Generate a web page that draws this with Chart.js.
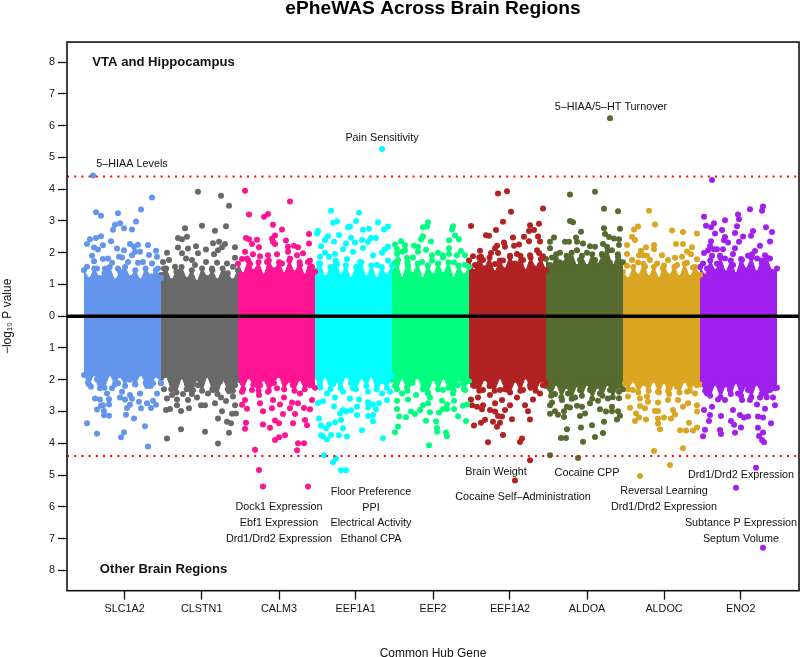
<!DOCTYPE html>
<html>
<head>
<meta charset="utf-8">
<title>ePheWAS Across Brain Regions</title>
<script src="https://cdn.jsdelivr.net/npm/chart.js@4"></script>
<style>
  body { margin: 0; background: #fff; }
  canvas { display: block; }
</style>
</head>
<body>
<canvas id="myChart" width="800" height="657"></canvas>
<script>
const genes = ["SLC1A2", "CLSTN1", "CALM3", "EEF1A1", "EEF2", "EEF1A2", "ALDOA", "ALDOC", "ENO2"];
const geneColors = ["#6495ED", "#696969", "#FF1493", "#00FFFF", "#00FF7F", "#B22222", "#556B2F", "#DAA520", "#A020F0"];
const geneStarts = [0, 77, 154, 231, 308, 385, 462, 539, 616];
const geneTicks = [40.7, 117.7, 195, 271.7, 349, 426, 503, 580, 656.7];
const yTicks = [-8, -7, -6, -5, -4, -3, -2, -1, 0, 1, 2, 3, 4, 5, 6, 7, 8];
const threshold = 4.4;

// upper edge of the solid mass of points, read across each gene, left to right
const edgeUp = [
  [1.45, 1.15, 1.5, 1.2, 1.35, 1.55, 1.1, 1.4, 1.55, 1.2, 1.45, 1.1, 1.5, 1.25, 1.45, 1.2],
  [1.3, 1.5, 1.1, 1.4, 1.55, 1.15, 1.45, 1.05, 1.5, 1.2, 1.45, 1.1, 1.5, 1.35, 1.1, 1.45],
  [1.65, 1.3, 1.75, 1.4, 1.7, 1.25, 1.75, 1.45, 1.7, 1.3, 1.75, 1.35, 1.7, 1.25, 1.75, 1.4],
  [1.45, 1.65, 1.2, 1.55, 1.75, 1.25, 1.6, 1.15, 1.55, 1.7, 1.2, 1.6, 1.15, 1.55, 1.25, 1.6],
  [1.4, 1.65, 1.15, 1.7, 1.3, 1.65, 1.15, 1.6, 1.25, 1.65, 1.3, 1.7, 1.15, 1.6, 1.25, 1.55],
  [1.75, 1.4, 1.85, 1.5, 1.85, 1.35, 1.75, 1.45, 1.9, 1.5, 1.9, 1.4, 1.85, 1.5, 1.8, 1.45],
  [1.8, 1.5, 1.95, 1.6, 1.9, 2.0, 1.55, 1.9, 1.55, 1.95, 1.6, 1.9, 2.05, 1.55, 1.95, 1.7],
  [1.4, 1.15, 1.55, 1.25, 1.65, 1.2, 1.55, 1.15, 1.6, 1.25, 1.55, 1.2, 1.65, 1.2, 1.55, 1.3],
  [1.55, 1.25, 1.75, 1.4, 1.85, 1.35, 1.75, 1.3, 1.8, 1.45, 1.85, 1.35, 1.75, 1.85, 1.4, 1.5]
];
const edgeDown = [
  [-1.85, -2.15, -1.8, -2.1, -2.25, -1.8, -2.15, -1.85, -2.2, -1.85, -2.15, -1.8, -2.1, -2.2, -1.85, -2.1],
  [-2.1, -1.85, -2.3, -2.4, -1.9, -2.3, -2.45, -1.95, -2.35, -1.85, -2.3, -2.45, -1.95, -2.3, -2.35, -2.0],
  [-2.0, -2.3, -1.9, -2.15, -2.35, -1.95, -2.35, -2.1, -1.85, -2.3, -2.0, -2.35, -1.95, -2.3, -2.05, -2.25],
  [-1.9, -2.25, -1.85, -2.3, -2.0, -2.25, -1.85, -2.1, -2.3, -1.9, -2.2, -1.85, -2.3, -2.05, -2.25, -1.9],
  [-2.0, -2.3, -1.9, -2.35, -2.1, -1.9, -2.3, -2.4, -1.95, -2.3, -1.9, -2.25, -2.35, -1.95, -2.3, -2.05],
  [-1.95, -2.2, -2.35, -1.95, -2.2, -2.35, -1.9, -2.3, -2.4, -2.0, -2.35, -1.9, -2.25, -2.35, -2.0, -2.1],
  [-2.2, -2.5, -2.1, -2.55, -2.2, -2.6, -2.15, -2.5, -2.1, -2.6, -2.2, -2.5, -2.1, -2.55, -2.2, -2.3],
  [-2.05, -2.3, -2.0, -2.4, -2.1, -2.35, -2.0, -2.4, -2.05, -2.45, -2.1, -2.4, -2.0, -2.35, -2.1, -2.15],
  [-2.05, -2.35, -2.5, -2.1, -2.55, -2.15, -2.45, -2.05, -2.5, -2.15, -2.55, -2.1, -2.45, -2.55, -2.15, -2.25]
];

// single points clear of the solid mass: [position, -log10 P], negative for other brain regions
const slc1a2 = [[9,4.43],[68,3.74],[57,3.36],[12,3.27],[17,3.16],[34,3.24],[52,2.98],[31,2.88],[36,2.93],[29,2.72],[40,2.77],[48,2.73],[17,2.52],[12,2.46],[6,2.42],[3,2.27],[27,2.36],[10,2.16],[14,2.1],[19,2.23],[8,1.9],[33,2.13],[46,2.27],[54,2.25],[50,2.19],[64,2.24],[72,2.06],[65,1.93],[73,1.87],[40,2.08],[35,1.87],[38,1.85],[48,1.92],[56,2.03],[51,2.03],[44,1.71],[19,1.8],[24,1.82],[10,1.73],[28,1.68],[3,1.56],[13,1.5],[21,1.5],[34,1.5],[54,1.68],[59,1.71],[68,1.66],[74,1.5],
  [3,-3.37],[13,-3.7],[40,-3.65],[37,-3.81],[61,-3.46],[64,-4.1],[50,-3.22],[20,-3.12],[25,-3.13],[42,-3.1],[13,-2.94],[17,-2.82],[19,-2.8],[25,-2.78],[20,-2.98],[43,-2.89],[46,-2.79],[57,-2.9],[67,-2.89],[63,-2.74],[72,-2.79],[55,-2.69],[11,-2.59],[16,-2.62],[25,-2.61],[36,-2.56],[41,-2.62],[48,-2.6],[69,-2.66],[73,-2.43],[56,-2.43],[16,-2.27],[23,-2.43],[28,-2.27],[38,-2.38],[46,-2.48],[7,-2.22],[63,-2.2],[4,-2.09],[19,-2.14],[34,-2.11],[51,-2.14],[69,-2.11],[13,-1.99],[46,-2]];
const clstn1 = [[114,3.92],[137,3.79],[145,3.48],[101,2.77],[118,2.85],[131,2.69],[142,2.83],[94,2.46],[98,2.42],[103,2.5],[94,2.16],[104,2.13],[112,2.2],[122,2.1],[129,2.3],[135,2.34],[141,2.27],[151,2.17],[83,2],[98,1.98],[114,1.98],[130,1.95],[151,1.84],[134,2.08],[138,2.17],[79,1.71],[85,1.77],[102,1.82],[108,1.77],[122,1.71],[133,1.68],[143,1.66],[80,1.5],[91,1.56],[111,1.61],[128,1.5],[149,1.56],
  [83,-3.85],[97,-3.56],[121,-3.64],[134,-4.01],[145,-3.67],[134,-3.22],[143,-3.32],[147,-3.37],[138,-2.99],[148,-3.07],[152,-3.06],[151,-2.8],[82,-2.95],[86,-2.92],[93,-2.8],[97,-2.98],[105,-2.9],[117,-2.8],[121,-2.8],[131,-2.74],[142,-2.67],[83,-2.59],[93,-2.62],[104,-2.64],[137,-2.56],[149,-2.53],[113,-2.56],[88,-2.48],[99,-2.45],[124,-2.43],[145,-2.36],[80,-2.3],[109,-2.33],[129,-2.32],[91,-2.17],[114,-2.17],[151,-2.17],[136,-2.06],[103,-2.14]];
const calm3 = [[161,3.95],[206,3.61],[165,3.2],[184,3.22],[180,3.13],[189,2.88],[198,2.73],[191,2.54],[225,2.59],[162,2.46],[165,2.42],[173,2.41],[168,2.27],[175,2.17],[188,2.44],[191,2.27],[189,2.34],[202,2.38],[204,2.19],[210,2.22],[214,2.17],[225,2.29],[161,2.03],[169,1.95],[184,1.92],[204,2.03],[219,1.98],[158,1.8],[163,1.82],[176,1.89],[193,1.95],[206,1.82],[213,1.92],[224,1.71],[166,1.64],[183,1.71],[198,1.66],[216,1.61],[228,1.56],
  [179,-5.36],[224,-5.36],[175,-4.84],[171,-4.2],[213,-4.22],[214,-4],[220,-4],[201,-3.75],[195,-3.81],[191,-3.9],[179,-3.41],[186,-3.51],[161,-3.54],[162,-3.35],[191,-3.28],[195,-3.37],[221,-3.27],[223,-3.43],[209,-3.37],[163,-2.91],[158,-2.79],[179,-2.99],[188,-2.9],[199,-3.08],[211,-3.08],[226,-2.93],[220,-2.89],[206,-2.9],[176,-2.74],[196,-2.78],[214,-2.74],[161,-2.64],[189,-2.64],[228,-2.64],[175,-2.48],[200,-2.56],[208,-2.72],[158,-2.38],[168,-2.32],[184,-2.38],[216,-2.43],[193,-2.27],[226,-2.17],[176,-2.17],[158,-1.96],[209,-2.17]];
const eef1a1 = [[298,5.26],[247,3.32],[275,3.26],[249,2.94],[253,2.99],[272,3],[294,2.96],[264,2.8],[266,2.82],[279,2.72],[285,2.75],[304,2.82],[300,2.73],[234,2.68],[233,2.6],[244,2.52],[255,2.56],[267,2.47],[241,2.39],[250,2.34],[262,2.29],[271,2.32],[278,2.4],[287,2.46],[292,2.46],[237,2.2],[259,2.11],[279,2.15],[284,2.34],[304,2.19],[301,2.11],[241,2],[251,1.96],[269,2.03],[298,2],[289,1.92],[236,1.87],[245,1.87],[263,1.79],[304,1.75],[276,1.71],[235,1.66],[253,1.64],[293,1.61],
  [240,-4.38],[252,-4.48],[249,-4.6],[257,-4.85],[262,-4.85],[299,-3.84],[237,-3.75],[239,-3.79],[243,-3.88],[247,-3.74],[255,-3.75],[263,-3.79],[278,-3.59],[237,-3.45],[242,-3.53],[245,-3.41],[251,-3.34],[257,-3.27],[259,-3.53],[235,-3.22],[289,-3.31],[284,-3.14],[289,-3.11],[273,-3.11],[256,-3.06],[259,-2.95],[262,-3],[267,-2.96],[292,-2.93],[250,-2.84],[273,-2.85],[284,-2.87],[284,-2.71],[289,-2.77],[295,-2.74],[234,-2.73],[239,-2.68],[303,-2.64],[266,-2.59],[251,-2.56],[275,-2.62],[243,-2.43],[259,-2.38],[284,-2.38],[298,-2.43],[306,-2.38],[236,-2.17],[269,-2.27],[249,-2.14],[293,-2.17]];
const eef2 = [[344,2.96],[339,2.8],[343,2.82],[369,2.83],[368,2.73],[339,2.52],[371,2.54],[317,2.36],[337,2.42],[347,2.35],[365,2.39],[375,2.42],[311,2.26],[321,2.23],[330,2.22],[334,2.19],[365,2.14],[313,2.11],[321,2.08],[342,2.09],[313,1.96],[318,2.03],[334,2.03],[354,2],[377,2.05],[348,1.92],[359,1.92],[365,1.96],[373,1.92],[381,1.92],[311,1.68],[314,1.77],[323,1.84],[329,1.85],[338,1.71],[348,1.75],[359,1.85],[370,1.69],[381,1.61],[324,1.58],[354,1.66],
  [345,-4.06],[363,-3.78],[362,-3.66],[353,-3.64],[353,-3.52],[311,-3.65],[314,-3.47],[342,-3.29],[352,-3.31],[382,-3.3],[315,-3.16],[322,-3.18],[374,-3.15],[327,-3],[331,-3.08],[336,-2.95],[346,-3.02],[355,-3.03],[313,-2.92],[359,-2.92],[363,-2.92],[370,-2.92],[339,-2.8],[344,-2.74],[358,-2.66],[363,-2.78],[379,-2.82],[383,-2.78],[313,-2.66],[324,-2.62],[346,-2.56],[370,-2.66],[332,-2.48],[318,-2.43],[369,-2.43],[381,-2.32],[344,-2.43],[323,-2.24],[359,-2.32],[339,-2.27],[311,-2.2],[374,-2.17]];
const eef1a2 = [[423,3.93],[414,3.86],[427,3.29],[459,3.39],[387,2.84],[419,2.97],[455,2.91],[446,2.86],[450,2.71],[445,2.68],[412,2.71],[402,2.55],[405,2.53],[429,2.48],[440,2.5],[454,2.51],[445,2.36],[456,2.35],[420,2.32],[413,2.22],[435,2.26],[430,2.22],[421,2.19],[411,2.14],[396,2.06],[407,1.99],[414,1.99],[453,2.08],[455,1.99],[389,1.89],[397,1.87],[426,1.87],[433,1.96],[446,1.92],[459,1.89],[399,1.77],[419,1.75],[439,1.77],[391,1.61],[411,1.64],[431,1.66],[456,1.61],
  [446,-4.53],[431,-5.17],[404,-3.97],[419,-3.74],[438,-3.85],[436,-3.96],[390,-3.44],[397,-3.35],[401,-3.26],[409,-3.32],[413,-3.48],[416,-3.35],[428,-3.24],[446,-3.25],[414,-3.14],[418,-3.16],[444,-2.99],[388,-2.8],[393,-2.85],[399,-2.8],[398,-2.93],[406,-2.95],[411,-3],[421,-2.95],[426,-2.8],[441,-2.8],[387,-2.62],[394,-2.56],[411,-2.74],[418,-2.64],[433,-2.56],[449,-2.62],[399,-2.32],[406,-2.48],[424,-2.32],[456,-2.43],[439,-2.32],[416,-2.32],[389,-2.17],[459,-2.17],[446,-2.17]];
const aldoa = [[526,6.23],[511,3.92],[486,3.83],[520,3.38],[534,3.3],[486,3],[489,2.96],[520,2.77],[536,2.75],[497,2.66],[521,2.59],[470,2.48],[492,2.48],[525,2.49],[530,2.45],[535,2.42],[466,2.34],[481,2.34],[485,2.34],[493,2.34],[499,2.29],[519,2.27],[535,2.24],[506,2.2],[511,2.19],[523,2.19],[466,2.14],[493,2.08],[528,2.08],[476,2],[503,2],[518,1.96],[468,1.85],[486,1.87],[534,1.87],[496,1.77],[511,1.77],[476,1.69],[526,1.68],[466,1.61],
  [466,-4.38],[494,-4.46],[499,-3.95],[477,-3.83],[482,-3.83],[483,-3.56],[497,-3.5],[508,-3.43],[511,-3.8],[519,-3.68],[520,-3.32],[533,-3.25],[536,-3.13],[466,-3.07],[471,-2.99],[474,-3.1],[480,-3.17],[496,-3.14],[501,-3.06],[516,-2.93],[522,-3],[528,-2.85],[528,-2.99],[534,-2.99],[480,-2.99],[483,-2.85],[486,-2.87],[493,-2.82],[498,-2.85],[466,-2.8],[468,-2.72],[506,-2.74],[514,-2.66],[535,-2.58],[478,-2.64],[491,-2.56],[524,-2.59],[471,-2.45],[496,-2.32],[484,-2.43],[516,-2.43],[535,-2.38],[466,-2.27],[506,-2.32],[526,-2.32]];
const aldoc = [[565,3.32],[571,2.89],[554,2.82],[550,2.73],[588,2.7],[599,2.65],[613,2.6],[548,2.5],[551,2.4],[592,2.27],[599,2.27],[543,2.24],[570,2.24],[562,2.17],[570,2.11],[608,2.17],[557,2.06],[603,2.04],[543,1.96],[555,1.92],[559,1.92],[563,1.9],[578,1.92],[598,1.87],[607,1.95],[591,1.84],[566,1.77],[548,1.77],[584,1.77],[613,1.79],[554,1.69],[573,1.66],[603,1.68],[543,1.59],[561,1.56],[593,1.61],[579,1.5],[609,1.53],
  [556,-5.03],[586,-4.68],[599,-4.16],[570,-4.24],[576,-3.56],[596,-3.59],[602,-3.6],[609,-3.6],[613,-3.5],[605,-3.35],[574,-3.38],[551,-3.3],[555,-3.19],[562,-3.25],[574,-3.22],[580,-3.19],[587,-3.22],[591,-3.09],[552,-3.06],[546,-2.88],[556,-2.83],[561,-2.9],[571,-2.98],[574,-2.98],[589,-2.95],[613,-3],[613,-2.8],[599,-2.85],[604,-2.74],[564,-2.69],[574,-2.72],[544,-2.53],[556,-2.59],[584,-2.64],[594,-2.64],[611,-2.43],[563,-2.53],[574,-2.38],[549,-2.32],[603,-2.38],[584,-2.35],[593,-2.22],[541,-2.12],[613,-2.17]];
const eno2 = [[628,4.29],[679,3.45],[678,3.32],[666,3.37],[654,3.2],[620,3.13],[655,3.05],[641,3.02],[630,2.93],[622,2.85],[627,2.8],[653,2.83],[682,2.8],[638,2.71],[651,2.62],[688,2.65],[631,2.6],[667,2.53],[659,2.51],[669,2.68],[641,2.49],[640,2.39],[627,2.36],[655,2.34],[686,2.35],[644,2.32],[626,2.2],[630,2.11],[633,2.11],[639,2.11],[651,2.14],[676,2.22],[620,1.99],[624,2.07],[671,2.05],[649,1.96],[628,1.9],[636,1.9],[664,1.9],[668,1.95],[681,1.92],[619,1.66],[641,1.82],[658,1.77],[673,1.82],[686,1.82],[623,1.5],[633,1.66],[649,1.61],[678,1.66],
  [679,-7.29],[652,-5.4],[672,-4.77],[680,-3.97],[678,-3.9],[675,-3.77],[679,-3.66],[674,-3.51],[619,-3.78],[621,-3.57],[637,-3.71],[636,-3.58],[651,-3.67],[657,-3.5],[650,-3.42],[687,-3.37],[625,-3.3],[647,-3.3],[626,-3.11],[637,-3.14],[656,-3.11],[664,-3.16],[674,-3.16],[679,-3.19],[620,-2.95],[628,-2.85],[649,-2.95],[660,-3.19],[673,-2.78],[681,-2.91],[691,-2.8],[634,-2.62],[658,-2.64],[666,-2.64],[641,-2.64],[623,-2.43],[654,-2.43],[689,-2.56],[676,-2.56],[646,-2.32],[691,-2.27],[664,-2.32],[621,-2.17],[636,-2.22],[686,-2.32]];
const genePoints = [slc1a2, clstn1, calm3, eef1a1, eef2, eef1a2, aldoa, aldoc, eno2];

// trait names written on the plot, anchored in axis units
const traitNames = ["5–HIAA Levels", "Pain Sensitivity", "5–HIAA/5–HT Turnover", "Brain Weight", "Cocaine Self–Administration", "Cocaine CPP", "Reversal Learning", "Drd1/Drd2 Expression", "Drd1/Drd2 Expression", "Subtance P Expression", "Septum Volume", "Dock1 Expression", "Ebf1 Expression", "Drd1/Drd2 Expression", "Floor Preference", "PPI", "Electrical Activity", "Ethanol CPA"];
const traitX = [48, 298, 527, 412, 439, 503, 580, 580, 657, 657, 657, 195, 195, 195, 287, 287, 287, 287];
const traitY = [4.82, 5.64, 6.62, -4.87, -5.65, -4.9, -5.48, -5.98, -4.98, -6.49, -6.99, -5.98, -6.49, -6.99, -5.51, -6.02, -6.49, -6.99];
const regionNames = ["VTA and Hippocampus", "Other Brain Regions"];
const regionY = [7.99, -7.97];

const xMin = -17, xMax = 715;
const ink = "#111";

const datasets = [
  { data: [{ x: xMin, y: 0 }, { x: xMax, y: 0 }], showLine: true, borderColor: "#000", borderWidth: 3.5, pointRadius: 0, order: 0 },
  { data: [{ x: xMin, y: threshold }, { x: xMax, y: threshold }], showLine: true, borderColor: "#FF0000", borderWidth: 2, borderDash: [2, 5.2], pointRadius: 0, order: 1 },
  { data: [{ x: xMin, y: -threshold }, { x: xMax, y: -threshold }], showLine: true, borderColor: "#FF0000", borderWidth: 2, borderDash: [2, 5.2], pointRadius: 0, order: 1 }
];

function edgeSeries(values, start) {
  return values.map((v, k) => ({ x: start + k * 77 / (values.length - 1), y: v }));
}

genes.forEach((gene, g) => {
  datasets.push({
    label: gene,
    data: genePoints[g].map(p => ({ x: p[0], y: p[1] })),
    backgroundColor: geneColors[g],
    borderWidth: 0,
    pointRadius: 3,
    order: 2
  });
  [edgeUp[g], edgeDown[g]].forEach(edge => {
    datasets.push({
      label: gene + " mass",
      data: edgeSeries(edge, geneStarts[g]),
      showLine: true,
      fill: "origin",
      backgroundColor: geneColors[g],
      borderColor: geneColors[g],
      borderWidth: 1,
      pointBackgroundColor: geneColors[g],
      pointBorderWidth: 0,
      pointRadius: 3,
      order: 3
    });
  });
});

const plotText = {
  id: "plotText",
  afterDatasetsDraw(chart) {
    const { ctx, chartArea, scales } = chart;
    ctx.save();
    ctx.strokeStyle = ink;
    ctx.lineWidth = 1.6;
    ctx.strokeRect(chartArea.left, chartArea.top, chartArea.width, chartArea.height);
    ctx.fillStyle = ink;
    ctx.textAlign = "center";
    ctx.textBaseline = "middle";
    ctx.font = "10.8px 'Liberation Sans'";
    traitNames.forEach((t, i) => ctx.fillText(t, scales.x.getPixelForValue(traitX[i]), scales.y.getPixelForValue(traitY[i]) + 1));
    ctx.font = "bold 13.1px 'Liberation Sans'";
    regionNames.forEach((t, i) => ctx.fillText(t, scales.x.getPixelForValue(79.5), scales.y.getPixelForValue(regionY[i])));
    ctx.restore();
  }
};

new Chart(document.getElementById("myChart"), {
  type: "scatter",
  data: { datasets },
  plugins: [plotText],
  options: {
    responsive: false,
    animation: false,
    layout: { autoPadding: false, padding: { right: 1 } },
    plugins: {
      legend: { display: false },
      tooltip: { enabled: false },
      title: {
        display: true,
        text: "ePheWAS Across Brain Regions",
        color: "#000",
        fullSize: false,
        font: { family: "'Liberation Sans'", size: 19.2, weight: "bold" },
        padding: { top: -2.5, bottom: 21.5 }
      }
    },
    scales: {
      x: {
        type: "linear",
        min: xMin,
        max: xMax,
        afterFit(scale) { scale.height = 66.3; },
        afterBuildTicks(scale) { scale.ticks = geneTicks.map(v => ({ value: v })); },
        grid: { drawOnChartArea: false, drawTicks: true, tickLength: 9, tickColor: ink, tickWidth: 1.3 },
        border: { display: false },
        ticks: {
          autoSkip: false,
          maxRotation: 0,
          color: ink,
          padding: 3,
          font: { family: "'Liberation Sans'", size: 10.8 },
          callback: (v, i) => genes[i]
        },
        title: {
          display: true,
          text: "Common Hub Gene",
          color: ink,
          font: { family: "'Liberation Sans'", size: 12 },
          padding: { top: 0, bottom: -3.5 }
        }
      },
      y: {
        min: -8.64,
        max: 8.63,
        afterFit(scale) { scale.width = 67; },
        afterBuildTicks(scale) { scale.ticks = yTicks.map(v => ({ value: v })); },
        grid: { drawOnChartArea: false, drawTicks: true, tickLength: 9, tickColor: ink, tickWidth: 1.3 },
        border: { display: false },
        ticks: {
          autoSkip: false,
          color: ink,
          padding: 3,
          font: { family: "'Liberation Sans'", size: 10.8 },
          callback: v => Math.abs(v)
        },
        title: {
          display: true,
          text: "−log₁₀ P value",
          color: ink,
          font: { family: "'Liberation Sans'", size: 12 },
          padding: 0
        }
      }
    }
  }
});
</script>
</body>
</html>
